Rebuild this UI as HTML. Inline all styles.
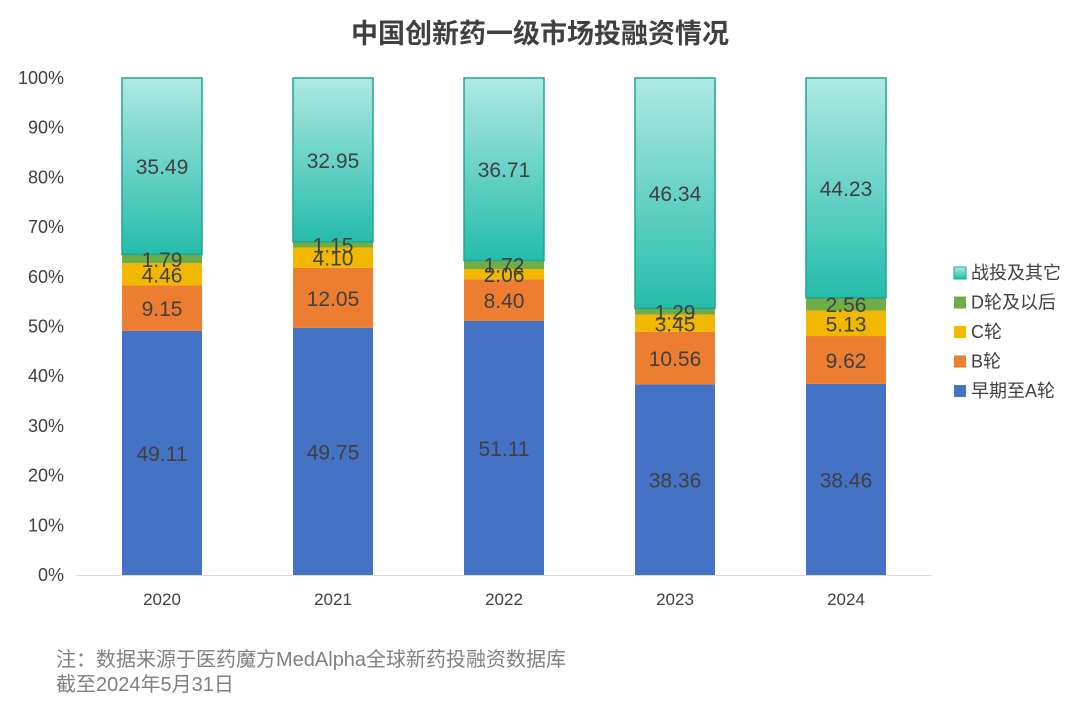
<!DOCTYPE html>
<html><head><meta charset="utf-8"><style>
body{margin:0;background:#fff;width:1080px;height:701px;overflow:hidden;font-family:"Liberation Sans","Noto Sans CJK SC",sans-serif;}
</style></head><body>
<svg id="chart" width="1080" height="701" xmlns="http://www.w3.org/2000/svg">
<defs><linearGradient id="tg" x1="0" y1="0" x2="0" y2="1"><stop offset="0" stop-color="#aee9e2"/><stop offset="1" stop-color="#25bcab"/></linearGradient></defs>
<text x="540" y="43" text-anchor="middle" font-size="27" font-weight="bold" fill="#404040" font-family="Liberation Sans,Noto Sans CJK SC,sans-serif">中国创新药一级市场投融资情况</text>
<text x="56" y="666" font-size="20" fill="#7f7f7f">注：数据来源于医药魔方MedAlpha全球新药投融资数据库</text>
<text x="56" y="691" font-size="20" fill="#7f7f7f">截至2024年5月31日</text>
</svg>
<script>
const categories=["2020","2021","2022","2023","2024"];
const seriesNames=["早期至A轮","B轮","C轮","D轮及以后","战投及其它"];
const earlyA=[49.11,49.75,51.11,38.36,38.46];
const roundB=[9.15,12.05,8.40,10.56,9.62];
const roundC=[4.46,4.10,2.06,3.45,5.13];
const roundD=[1.79,1.15,1.72,1.29,2.56];
const strategic=[35.49,32.95,36.71,46.34,44.23];
const yTicks=[0,10,20,30,40,50,60,70,80,90,100];
const series=[earlyA,roundB,roundC,roundD,strategic];
const colors=["#4472C4","#ED7D31","#F2B800","#70AD47","url(#tg)"];
const svg=document.getElementById('chart');
const NS="http://www.w3.org/2000/svg";
const y0=575,y1=78,left=76.5,right=931.5;
const y=v=>y0-(y0-y1)*v/100;
const band=(right-left)/categories.length;
const x=i=>left+band*(i+0.5);
const bw=80;
function mk(tag,attrs,txt){const e=document.createElementNS(NS,tag);for(const k in attrs)e.setAttribute(k,attrs[k]);if(txt!==undefined)e.textContent=txt;svg.appendChild(e);return e;}
yTicks.forEach(t=>{
 const e=mk('text',{x:64,y:y(t)+6,'text-anchor':'end','font-size':18,fill:'#404040'},t+'%');
 
 
});
const ax=mk('line',{x1:left,x2:right,y1:y0+0.5,y2:y0+0.5,stroke:'#d9d9d9','stroke-width':1});


categories.forEach((c,i)=>{
 const tot=series.reduce((s,a)=>s+a[i],0);
 let acc=0;
 series.forEach((arr,si)=>{
  const v=arr[i]/tot*100;
  const top=y(acc+v),bot=y(acc);
  const r=mk('rect',{x:x(i)-bw/2,y:top,width:bw,height:bot-top,fill:colors[si]});
  if(si===4){r.setAttribute('stroke','#1fa595');r.setAttribute('stroke-width','1.5');}
  
  
  acc+=v;
 });
 acc=0;
 series.forEach((arr,si)=>{
  const v=arr[i]/tot*100;
  const t=mk('text',{x:x(i),y:y(acc+v/2)+8,'text-anchor':'middle','font-size':21,fill:'#404040'},arr[i].toFixed(2));
  
  
  acc+=v;
 });
 const l=mk('text',{x:x(i),y:605,'text-anchor':'middle','font-size':17,fill:'#404040'},c);
 
 
});
for(let si=4;si>=0;si--){
 const ly=273+(4-si)*29.5;
 const sw=mk('rect',{x:954,y:ly-6,width:12,height:12,fill:colors[si]});
 if(si===4){sw.setAttribute('stroke','#1fa595');sw.setAttribute('stroke-width','1');}
 
 
 const lt=mk('text',{x:971,y:ly+6,'font-size':18,fill:'#404040'},seriesNames[si]);
 
 
}
</script>
</body></html>
